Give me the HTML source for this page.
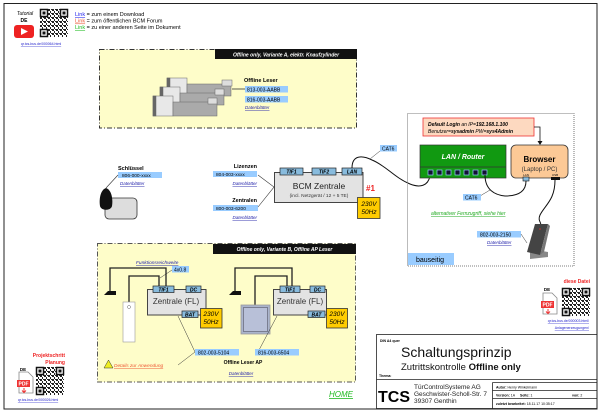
<!DOCTYPE html>
<html><head><meta charset="utf-8"><style>
html,body{margin:0;padding:0;background:#fff}
svg{display:block;font-family:"Liberation Sans",sans-serif}
</style></head><body>
<svg width="600" height="414" viewBox="0 0 600 414" xmlns="http://www.w3.org/2000/svg">
<defs>
<pattern id="qp" width="4" height="4" patternUnits="userSpaceOnUse">
<rect width="4" height="4" fill="#fff"/><rect x="0" y="0" width="2" height="2" fill="#222"/><rect x="2" y="2" width="1" height="2" fill="#222"/><rect x="3" y="0" width="1" height="1" fill="#222"/>
</pattern>
<g id="qr">
<rect x="0" y="0" width="28" height="28" fill="url(#qp)"/>
<rect x="0.5" y="0.5" width="7" height="7" fill="#fff" stroke="#111" stroke-width="1.5"/><rect x="2.5" y="2.5" width="3" height="3" fill="#111"/>
<rect x="20.5" y="0.5" width="7" height="7" fill="#fff" stroke="#111" stroke-width="1.5"/><rect x="22.5" y="2.5" width="3" height="3" fill="#111"/>
<rect x="0.5" y="20.5" width="7" height="7" fill="#fff" stroke="#111" stroke-width="1.5"/><rect x="2.5" y="22.5" width="3" height="3" fill="#111"/>
</g>
<g id="pdf">
<path d="M2 0 H11 L16 5 V21 H2 Z" fill="#fff" stroke="#888" stroke-width="0.8"/>
<rect x="0" y="8" width="13" height="7" fill="#e33"/>
<text x="6.5" y="13.5" font-size="5" fill="#fff" text-anchor="middle" font-weight="bold">PDF</text>
<path d="M7 16 V20 M5 18.5 L7 20.5 L9 18.5" stroke="#e33" fill="none" stroke-width="1"/>
</g>
</defs>
<rect x="4" y="3.5" width="593" height="405.5" fill="none" stroke="#222" stroke-width="1"/>

<!-- top-left legend -->
<text x="25" y="15" font-size="5" font-style="italic" text-anchor="middle">Tutorial</text>
<text x="24" y="22" font-size="5" font-weight="bold" text-anchor="middle">DE</text>
<rect x="14" y="25" width="20" height="13" rx="3" fill="#e22"/>
<path d="M21 28 L28 31.5 L21 35 Z" fill="#fff"/>
<use href="#qr" x="40" y="9"/>
<text x="41" y="45" font-size="3.5" fill="#22c" text-decoration="underline" text-anchor="middle">qr.tcs-bus.de/000064.html</text>
<text x="75" y="16" font-size="5.5"><tspan fill="#22e" text-decoration="underline">Link</tspan> = zum einem Download</text>
<text x="75" y="22.5" font-size="5.5"><tspan fill="#e53" text-decoration="underline">Link</tspan> = zum öffentlichen BCM Forum</text>
<text x="75" y="29" font-size="5.5"><tspan fill="#2b2" text-decoration="underline">Link</tspan> = zu einer anderen Seite im Dokument</text>

<!-- Box A -->
<rect x="99.5" y="49.5" width="257" height="78.5" fill="#fefdc9" stroke="#333" stroke-width="1" stroke-dasharray="5,2,1,2"/>
<rect x="215" y="49" width="142" height="10" fill="#111"/>
<text x="286" y="56.5" font-size="5" fill="#fff" font-weight="bold" font-style="italic" text-anchor="middle">Offline only, Variante A, elektr. Knaufzylinder</text>
<g stroke="#666" stroke-width="0.5">
<rect x="167" y="78" width="20" height="20" fill="#e8e8e8"/><rect x="167" y="78" width="3" height="20" fill="#666"/>
<rect x="160" y="87" width="20" height="20" fill="#e8e8e8"/><rect x="160" y="87" width="3" height="20" fill="#666"/>
<rect x="153" y="96" width="20" height="20" fill="#e8e8e8"/><rect x="153" y="96" width="3" height="20" fill="#666"/>
<rect x="187" y="84" width="44" height="12" fill="#aaa"/>
<rect x="180" y="93" width="44" height="12" fill="#aaa"/>
<rect x="173" y="102" width="44" height="14" fill="#aaa"/>
<rect x="222" y="80" width="10" height="6" fill="#ddd"/><rect x="215" y="89" width="9" height="6" fill="#ddd"/><rect x="208" y="98" width="9" height="6" fill="#ddd"/>
</g>
<line x1="232" y1="89" x2="245" y2="89" stroke="#333" stroke-width="0.8"/>
<text x="244" y="82" font-size="5.5" font-weight="bold">Offline Leser</text>
<rect x="245" y="86" width="43" height="6.5" fill="#9cf"/><text x="247" y="91.3" font-size="5">813-003-AABB</text>
<rect x="245" y="96" width="43" height="6.5" fill="#9cf"/><text x="247" y="101.3" font-size="5">816-003-AABB</text>
<text x="245" y="109" font-size="4.5" fill="#22a" font-style="italic" text-decoration="underline">Datenblätter</text>

<!-- Schlüssel -->
<text x="118" y="170" font-size="5.5" font-weight="bold">Schlüssel</text>
<rect x="118" y="172" width="44" height="6" fill="#9cf"/><text x="122" y="177" font-size="4.8">806-000-xxxx</text>
<text x="120" y="185" font-size="4.5" fill="#22a" font-style="italic" text-decoration="underline">Datenblätter</text>
<line x1="118" y1="175" x2="106" y2="188" stroke="#333" stroke-width="0.6"/>
<rect x="105" y="198" width="32" height="21" rx="4" fill="#ddd" stroke="#333" stroke-width="0.8"/>
<path d="M106 188 C100 190 99 200 100 206 C101 211 111 211 112 206 C113 200 112 190 106 188 Z" fill="#111"/>

<!-- Lizenzen / Zentralen -->
<text x="257" y="168" font-size="5.5" font-weight="bold" text-anchor="end">Lizenzen</text>
<rect x="213" y="171" width="44" height="6" fill="#9cf"/><text x="216" y="176" font-size="4.8">804-003-xxxx</text>
<text x="257" y="185" font-size="4.5" fill="#22a" font-style="italic" text-decoration="underline" text-anchor="end">Datenblätter</text>
<text x="257" y="202" font-size="5.5" font-weight="bold" text-anchor="end">Zentralen</text>
<rect x="213" y="205" width="45" height="6" fill="#9cf"/><text x="216" y="210" font-size="4.8">800-003-6200</text>
<text x="257" y="219" font-size="4.5" fill="#22a" font-style="italic" text-decoration="underline" text-anchor="end">Datenblätter</text>
<path d="M258 175 L274 187 L258 207" fill="none" stroke="#333" stroke-width="0.6"/>

<!-- BCM Zentrale -->
<rect x="274.5" y="172.5" width="88.5" height="30" fill="#e3e3e3" stroke="#444" stroke-width="1"/>
<g font-size="5" font-weight="bold" font-style="italic" text-anchor="middle">
<rect x="280" y="168" width="23" height="7" fill="#8bd" stroke="#222" stroke-width="0.7"/><text x="291.5" y="173.7">TIF1</text>
<rect x="312" y="168" width="24" height="7" fill="#8bd" stroke="#222" stroke-width="0.7"/><text x="324" y="173.7">TIF2</text>
<rect x="342" y="168" width="20" height="7" fill="#8bd" stroke="#222" stroke-width="0.7"/><text x="352" y="173.7">LAN</text>
</g>
<text x="319" y="189" font-size="8.5" text-anchor="middle" fill="#222">BCM Zentrale</text>
<text x="319" y="197" font-size="4.8" text-anchor="middle" fill="#333">(incl. Netzgerät / 12 + 5 TE)</text>
<text x="366" y="191" font-size="8" font-weight="bold" fill="#e22">#1</text>
<rect x="357.5" y="197.5" width="22.5" height="21" fill="#fc0" stroke="#333" stroke-width="0.8"/>
<text x="369" y="206" font-size="6.5" font-style="italic" text-anchor="middle">230V</text>
<text x="369" y="214" font-size="6.5" font-style="italic" text-anchor="middle">50Hz</text>

<!-- cable CAT6 -->
<path d="M352 168 C352 155 362 155 372 160 C385 165 395 178 410 184 C420 188 428 186 430 176" fill="none" stroke="#111" stroke-width="1"/>
<line x1="370" y1="159" x2="380" y2="151" stroke="#333" stroke-width="0.5"/>
<rect x="380" y="145" width="17" height="6.5" fill="#9cf"/><text x="382" y="150.5" font-size="5">CAT6</text>

<!-- dotted right box -->
<rect x="407.5" y="113.5" width="166.5" height="152.5" fill="none" stroke="#555" stroke-width="0.8" stroke-dasharray="1,1"/>
<rect x="408" y="253" width="46" height="12" fill="#9cf"/><text x="416" y="262" font-size="7">bauseitig</text>
<rect x="423" y="118" width="111" height="18" fill="#fdd9c0" stroke="#e33" stroke-width="0.8"/>
<text x="428" y="126" font-size="5" font-weight="bold" font-style="italic">Default Login <tspan font-weight="normal">an IP=</tspan>192.168.1.100</text>
<text x="428" y="133" font-size="5" font-style="italic">Benutzer=<tspan font-weight="bold">sysadmin</tspan> PW=<tspan font-weight="bold">sys4Admin</tspan></text>
<path d="M534 127 H540 V143" fill="none" stroke="#111" stroke-width="0.8"/><path d="M537.5 141 L540 145 L542.5 141 Z" fill="#111"/>
<rect x="420" y="145" width="86" height="33" fill="#119911" stroke="#333" stroke-width="0.7"/>
<line x1="420" y1="167" x2="506" y2="167" stroke="#333" stroke-width="0.7"/>
<text x="463" y="159" font-size="7" font-weight="bold" font-style="italic" fill="#fff" text-anchor="middle">LAN / Router</text>
<g fill="#113" stroke="#9cf" stroke-width="0.7">
<rect x="428" y="170" width="5" height="5"/><rect x="437" y="170" width="5" height="5"/><rect x="446" y="170" width="5" height="5"/><rect x="455" y="170" width="5" height="5"/><rect x="464" y="170" width="5" height="5"/><rect x="473" y="170" width="5" height="5"/><rect x="482" y="170" width="5" height="5"/>
</g>
<rect x="511" y="145" width="57" height="33" rx="5" fill="#fcc996" stroke="#333" stroke-width="0.8"/>
<text x="539.5" y="162" font-size="8" font-weight="bold" text-anchor="middle">Browser</text>
<text x="539.5" y="171" font-size="6" text-anchor="middle" fill="#333">(Laptop / PC)</text>
<text x="526" y="176" font-size="3" text-anchor="middle">LAN</text><text x="555" y="176" font-size="3" text-anchor="middle">USB</text>
<rect x="523" y="177" width="6" height="4" fill="#8bd" stroke="#111" stroke-width="0.6"/>
<rect x="551" y="177" width="9" height="3" fill="#111"/>
<path d="M485 175 C485 190 495 195 505 196 C520 196 526 190 526 181" fill="none" stroke="#111" stroke-width="1"/>
<line x1="490" y1="190" x2="480" y2="196" stroke="#333" stroke-width="0.5"/>
<rect x="463" y="194" width="18" height="6.5" fill="#9cf"/><text x="465" y="199.5" font-size="5">CAT6</text>
<text x="431" y="215" font-size="5" fill="#2a2" font-style="italic" text-decoration="underline">alternativer Fernzugriff, siehe hier</text>
<path d="M555 180 C555 200 545 205 540 215 C537 222 543 222 540 228" fill="none" stroke="#111" stroke-width="1"/>
<rect x="477" y="231" width="44" height="6.5" fill="#9cf"/><text x="480" y="236.5" font-size="5">802-003-2150</text>
<text x="487" y="244" font-size="4.5" fill="#22a" font-style="italic" text-decoration="underline">Datenblätter</text>
<line x1="521" y1="234" x2="527" y2="243" stroke="#333" stroke-width="0.5"/>
<path d="M530 249 L548 252 L548 257 L530 259 Z" fill="#888"/>
<path d="M535 224 L548 224 L540 255 L527 252 Z" fill="#444"/>
<path d="M540 255 L548 224 L550 226 L544 252 Z" fill="#777"/>
<circle cx="540" cy="229" r="0.8" fill="#c33"/>

<!-- Box B -->
<rect x="97.5" y="243.5" width="258" height="138.5" fill="#fefdc9" stroke="#555" stroke-width="1" stroke-dasharray="5,2,1,2"/>
<rect x="213" y="244" width="143" height="10" fill="#111"/>
<text x="284.5" y="251" font-size="5" fill="#fff" font-weight="bold" font-style="italic" text-anchor="middle">Offline only, Variante B, Offline AP Leser</text>
<text x="136" y="264" font-size="4.8" fill="#22a" font-style="italic" text-decoration="underline">Funktionsreichweite</text>
<rect x="172" y="266" width="17" height="6.5" fill="#9cf"/><text x="174" y="271.5" font-size="5">4x0.8</text>
<line x1="172" y1="270" x2="160" y2="278" stroke="#333" stroke-width="0.5"/>
<g fill="none" stroke="#222" stroke-width="1.3">
<path d="M110 291 V268 H166 V287"/><path d="M129 302 V276 H159 V287"/>
<path d="M235 291 V268 H292 V287"/><path d="M255 305 V276 H287 V287"/>
</g>
<path d="M104 295 L108 291 L116 291 L116 295 Z" fill="#111"/>
<path d="M229 295 L233 291 L241 291 L241 295 Z" fill="#111"/>
<rect x="123" y="302" width="12" height="40" fill="#fff" stroke="#999" stroke-width="0.6"/>
<circle cx="129" cy="307" r="1.5" fill="none" stroke="#666" stroke-width="0.5"/>
<rect x="241" y="305" width="29" height="29" fill="#aab4cc" stroke="#999" stroke-width="0.8"/>
<rect x="243.5" y="307.5" width="24" height="24" fill="#b8c0d8" stroke="#556" stroke-width="0.6"/>
<g font-size="5" font-weight="bold" font-style="italic" text-anchor="middle">
<rect x="147.5" y="289.5" width="58.5" height="25.5" fill="#e3e3e3" stroke="#444" stroke-width="1"/>
<rect x="153" y="286" width="21" height="6.5" fill="#8bd" stroke="#222" stroke-width="0.7"/><text x="163.5" y="291.3">TIF1</text>
<rect x="186" y="286" width="15" height="6.5" fill="#8bd" stroke="#222" stroke-width="0.7"/><text x="193.5" y="291.3">DC</text>
<rect x="182" y="311" width="16" height="6.5" fill="#8bd" stroke="#222" stroke-width="0.7"/><text x="190" y="316.3">BAT</text>
<rect x="273.5" y="289.5" width="53" height="25.5" fill="#e3e3e3" stroke="#444" stroke-width="1"/>
<rect x="280" y="286" width="20" height="6.5" fill="#8bd" stroke="#222" stroke-width="0.7"/><text x="290" y="291.3">TIF1</text>
<rect x="310" y="286" width="15" height="6.5" fill="#8bd" stroke="#222" stroke-width="0.7"/><text x="317.5" y="291.3">DC</text>
<rect x="308" y="311" width="17" height="6.5" fill="#8bd" stroke="#222" stroke-width="0.7"/><text x="316.5" y="316.3">BAT</text>
</g>
<text x="176" y="304" font-size="8" text-anchor="middle" fill="#333">Zentrale (FL)</text>
<text x="300" y="304" font-size="8" text-anchor="middle" fill="#333">Zentrale (FL)</text>
<g font-size="6.5" font-style="italic" text-anchor="middle">
<rect x="200.5" y="308.5" width="21.5" height="19.5" fill="#fc0" stroke="#333" stroke-width="0.8"/><text x="211" y="316">230V</text><text x="211" y="324">50Hz</text>
<rect x="326.5" y="308.5" width="21" height="19.5" fill="#fc0" stroke="#333" stroke-width="0.8"/><text x="337" y="316">230V</text><text x="337" y="324">50Hz</text>
</g>
<path d="M178 316 L195 352" fill="none" stroke="#333" stroke-width="0.5"/>
<path d="M195 352 L178 365" fill="none" stroke="#333" stroke-width="0.5"/>
<path d="M277 316 L258 352" fill="none" stroke="#333" stroke-width="0.5"/>
<rect x="195" y="349" width="44" height="6.5" fill="#9cf"/><text x="198" y="354.5" font-size="5">802-003-5104</text>
<rect x="255" y="349" width="44" height="6.5" fill="#9cf"/><text x="258" y="354.5" font-size="5">816-003-6504</text>
<path d="M104 368 L108.5 360 L113 368 Z" fill="#ee2" stroke="#333" stroke-width="0.5"/>
<text x="114" y="367" font-size="4.8" fill="#e53" font-style="italic" text-decoration="underline">Details zur Anwendung</text>
<text x="243" y="364" font-size="5" font-weight="bold" text-anchor="middle">Offline Leser AP</text>
<text x="241" y="375" font-size="4.5" fill="#22a" font-style="italic" text-decoration="underline" text-anchor="middle">Datenblätter</text>
<text x="341" y="397" font-size="8" fill="#2b2" font-style="italic" text-decoration="underline" text-anchor="middle">HOME</text>

<!-- Projektschritt -->
<text x="65" y="357" font-size="5" font-weight="bold" fill="#e22" text-anchor="end">Projektschritt</text>
<text x="65" y="364" font-size="5" font-weight="bold" fill="#e22" text-anchor="end">Planung</text>
<text x="23" y="371" font-size="4.5" font-weight="bold" text-anchor="middle">DE</text>
<use href="#pdf" x="17" y="372"/>
<use href="#qr" x="36" y="367"/>
<text x="38" y="401" font-size="3.5" fill="#22c" text-decoration="underline" text-anchor="middle">qr.tcs-bus.de/000026.html</text>

<!-- diese Datei -->
<text x="590" y="283" font-size="5" font-weight="bold" fill="#e22" text-anchor="end">diese Datei</text>
<text x="547" y="291" font-size="4.5" font-weight="bold" text-anchor="middle">DE</text>
<use href="#pdf" x="541" y="293"/>
<use href="#qr" x="562" y="288"/>
<text x="589" y="322" font-size="3.5" fill="#22c" text-decoration="underline" text-anchor="end">qr.tcs-bus.de/000003.html/</text>
<text x="589" y="329" font-size="3.5" fill="#22c" text-decoration="underline" text-anchor="end">Anlagenerzeugungen/</text>

<!-- title block -->
<g fill="none" stroke="#222" stroke-width="0.8">
<rect x="376.5" y="334.5" width="220.5" height="74"/>
<line x1="376.5" y1="379.5" x2="597" y2="379.5"/>
<line x1="492.5" y1="382.5" x2="597" y2="382.5"/>
<line x1="492.5" y1="382.5" x2="492.5" y2="408.5"/>
<line x1="492.5" y1="390.5" x2="597" y2="390.5"/>
<line x1="492.5" y1="398.5" x2="597" y2="398.5"/>
</g>
<text x="380" y="342" font-size="3.5" font-weight="bold">DIN A4 quer</text>
<text x="401" y="357" font-size="14" fill="#111">Schaltungsprinzip</text>
<text x="401" y="370" font-size="9.5" fill="#111">Zutrittskontrolle <tspan font-weight="bold">Offline only</tspan></text>
<text x="379" y="377" font-size="3.5" font-weight="bold">Thema:</text>
<text x="378" y="402" font-size="16" font-weight="bold">TCS</text>
<text x="414" y="389" font-size="6.5" fill="#222">TürControlSysteme AG</text>
<text x="414" y="396" font-size="6.5" fill="#222">Geschwister-Scholl-Str. 7</text>
<text x="414" y="403" font-size="6.5" fill="#222">39307 Genthin</text>
<text x="496" y="388.5" font-size="3.5"><tspan font-weight="bold">Autor:</tspan> Henry Winkelmann</text>
<text x="496" y="396.5" font-size="3.5"><tspan font-weight="bold">Version:</tspan> 1A <tspan x="520" font-weight="bold">Seite:</tspan> 1 <tspan x="572" font-weight="bold">von:</tspan> 2</text>
<text x="496" y="405" font-size="3.5"><tspan font-weight="bold">zuletzt bearbeitet:</tspan> 18.11.17   10:35:17</text>
</svg>
</body></html>
